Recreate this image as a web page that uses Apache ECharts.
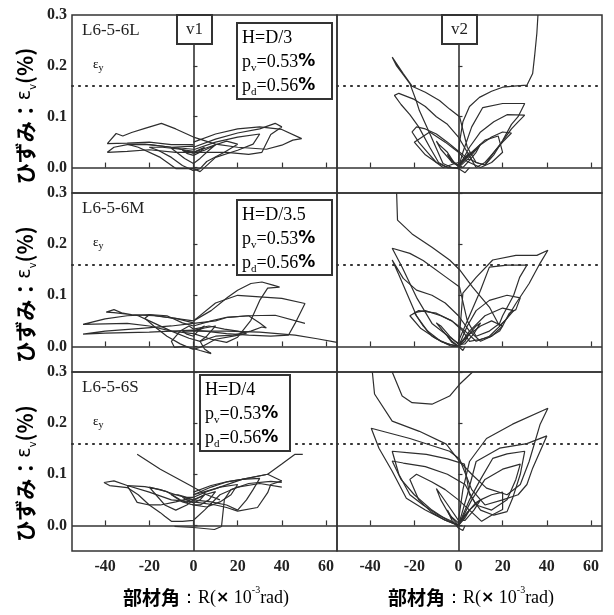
<!DOCTYPE html>
<html>
<head>
<meta charset="utf-8">
<script src="https://cdn.jsdelivr.net/npm/echarts@6/dist/echarts.min.js"></script>
<style>
  html, body { margin: 0; padding: 0; background: #fff; }
  #chart { width: 614px; height: 615px; }
</style>
</head>
<body>
<div id="chart"></div>
<script>
// axis ticks and reference values
const xTicks = [-40, -20, 0, 20, 40, 60]
const yTicks = [0, 0.1, 0.2, 0.3]
const yieldStrain = 0.16

// row texts
const specimens = ['L6-5-6L', 'L6-5-6M', 'L6-5-6S']
const heights = ['H=D/3', 'H=D/3.5', 'H=D/4']
const pv = '0.53'
const pd = '0.56'

// hysteresis loops [R, strain], one array per loop
const v1L = [
  [[0, 0.03], [3, 0.036], [5, 0.04], [3, 0.03], [0, 0.024], [-3, 0.028], [-5, 0.034], [-3, 0.032], [0, 0.028]],
  [[0, 0.028], [5, 0.034], [10, 0.045], [7, 0.034], [3, 0.018], [0, 0.008], [-4, 0.018], [-10, 0.038], [-7, 0.038], [-3, 0.032], [0, 0.03]],
  [[0, 0.03], [8, 0.042], [15, 0.052], [20, 0.046], [14, 0.03], [6, 0.012], [3, -0.002], [0, -0.006], [-5, 0.004], [-10, 0.02], [-16, 0.034], [-20, 0.04], [-14, 0.04], [-6, 0.036], [0, 0.032]],
  [[0, 0.035], [10, 0.05], [20, 0.06], [30, 0.066], [27, 0.046], [20, 0.034], [10, 0.02], [3, -0.008], [0, -0.002], [-8, -0.002], [-15, 0.02], [-25, 0.04], [-30, 0.046], [-22, 0.046], [-10, 0.04], [0, 0.036]],
  [[0, 0.04], [10, 0.056], [20, 0.068], [30, 0.076], [37, 0.087], [40, 0.08], [35, 0.065], [31, 0.03], [25, 0.026], [15, 0.03], [5, 0.03], [0, 0.03], [-8, 0.03], [-20, 0.035], [-30, 0.032], [-39, 0.03], [-36, 0.04], [-30, 0.045], [-20, 0.045], [-10, 0.04], [0, 0.042]],
  [[0, 0.05], [10, 0.066], [20, 0.076], [30, 0.08], [40, 0.075], [49, 0.057], [45, 0.054], [40, 0.044], [33, 0.036], [20, 0.04], [10, 0.046], [0, 0.06], [-8, 0.076], [-14.5, 0.087], [-22, 0.077], [-28, 0.069], [-32, 0.062], [-35, 0.067], [-39, 0.047], [-30, 0.048], [-20, 0.05], [-10, 0.045], [0, 0.045]]
]

const v2L = [
  [[0, 0.006], [3, 0.02], [5, 0.03], [3, 0.016], [0, 0.002], [-3, 0.015], [-5, 0.026], [-3, 0.01], [0, 0.004]],
  [[0, 0.004], [4, 0.02], [8, 0.036], [10, 0.046], [8, 0.03], [5, 0.014], [2, 0], [-2, 0.01], [-5, 0.03], [-9, 0.046], [-10, 0.052], [-8, 0.036], [-4, 0.016], [0, 0.002]],
  [[0, 0], [5, 0.02], [10, 0.045], [15, 0.06], [20, 0.07], [24, 0.068], [20, 0.05], [16, 0.03], [12, 0.005], [8, 0.01], [3, 0.022], [0, 0.032], [-5, 0.05], [-10, 0.066], [-15, 0.076], [-19, 0.08], [-21, 0.07], [-18, 0.05], [-14, 0.03], [-10, 0.01], [-7, 0], [-3, 0.006], [0, 0.01]],
  [[0, 0.006], [6, 0.03], [12, 0.054], [18, 0.062], [20, 0.03], [15, 0.01], [10, 0], [4, 0.012], [0, 0.03], [-6, 0.05], [-13, 0.07], [-20, 0.05], [-15, 0.025], [-10, 0.01], [-5, 0], [0, 0]],
  [[0, 0], [5, 0.04], [10, 0.07], [16, 0.09], [22, 0.104], [30, 0.103], [27, 0.09], [24, 0.076], [20, 0.052], [16, 0.03], [12, 0.01], [8, 0], [4, 0.03], [0, 0.06], [-5, 0.085], [-10, 0.1], [-15, 0.12], [-20, 0.134], [-27, 0.146], [-29, 0.142], [-26, 0.124], [-22, 0.104], [-18, 0.08], [-13, 0.04], [-9, 0.01], [-5, 0], [0, 0]],
  [[0, 0], [2, 0.03], [6, 0.08], [11, 0.118], [20, 0.126], [30, 0.126], [27, 0.1], [24, 0.085], [20, 0.053], [16, 0.025], [12, 0.005], [8, 0.01], [4, 0.04], [0.5, 0.1], [-4, 0.115], [-8.6, 0.132], [-15, 0.148], [-21, 0.16], [-25, 0.185], [-30, 0.217], [-28, 0.2], [-24.5, 0.18], [-22, 0.165], [-19, 0.13], [-17.7, 0.112], [-13, 0.067], [-7, 0.008], [-3, 0], [0, -0.002], [3, -0.01], [5, 0]],
  [[0, 0], [0.5, 0.05], [2, 0.09], [5, 0.12], [9.5, 0.138], [15, 0.15], [20, 0.158], [25, 0.16], [31, 0.162], [33.6, 0.185], [34.5, 0.22], [35.5, 0.264], [36, 0.3]]
]

const v1M = [
  [[0, 0.03], [3, 0.035], [5, 0.04], [2, 0.03], [0, 0.02], [-3, 0.024], [-5, 0.03], [-2, 0.03], [0, 0.03]],
  [[0, 0.03], [5, 0.036], [10, 0.04], [6, 0.02], [3, 0.01], [5, -0.005], [8, -0.014], [3, -0.008], [0, -0.004], [-4, 0], [-8.6, -0.002], [-10, 0.01], [-6, 0.03], [-2, 0.04], [0, 0.034]],
  [[0, 0.034], [7, 0.04], [14, 0.034], [20, 0.03], [24, 0.025], [18, 0.02], [10, 0.014], [4, 0], [0, -0.006], [-6, 0.005], [-12, 0.02], [-18, 0.04], [-22, 0.055], [-20, 0.062], [-12, 0.06], [-5, 0.046], [0, 0.04]],
  [[0, 0.04], [8, 0.05], [15, 0.057], [25, 0.06], [30, 0.046], [33, 0.036], [31, 0.038], [26, 0.03], [18, 0.022], [10, 0.02], [3, 0.01], [-2, 0.016], [-10, 0.03], [-20, 0.05], [-25, 0.06], [-32, 0.065], [-36, 0.072], [-39.5, 0.067], [-36, 0.066], [-28, 0.062], [-18, 0.06], [-8, 0.055], [0, 0.046]],
  [[0, 0.05], [8, 0.07], [15.5, 0.096], [20, 0.11], [26, 0.123], [31, 0.126], [36, 0.12], [39, 0.116], [33.6, 0.114], [30, 0.09], [26, 0.051], [20, 0.018], [15, 0.008], [8, 0.014], [0, 0.025], [-10, 0.03], [-20, 0.04], [-30, 0.045], [-40, 0.044], [-50, 0.043], [-40, 0.054], [-30, 0.06], [-20, 0.062], [-10, 0.056], [0, 0.05]],
  [[0, 0.05], [10, 0.085], [20, 0.1], [30, 0.097], [40, 0.094], [50.5, 0.084], [46, 0.045], [43, 0.022], [35, 0.02], [25, 0.022], [15, 0.025], [5, 0.03], [0, 0.032], [-10, 0.03], [-20, 0.028], [-30, 0.027], [-40, 0.026], [-50, 0.024], [-40, 0.03], [-25, 0.035], [-10, 0.04], [0, 0.045], [10, 0.05], [15.5, 0.057], [25, 0.06], [37, 0.061], [50.5, 0.045]],
  [[0, 0.03], [15, 0.03], [30, 0.028], [46, 0.022], [56, 0.015], [65, 0.008]]
]

const v2M = [
  [[0, 0.004], [3, 0.015], [5, 0.026], [3, 0.01], [0, 0], [-3, 0.01], [-5, 0.02], [-3, 0.008], [0, 0]],
  [[0, 0], [4, 0.02], [8, 0.04], [10, 0.046], [7, 0.025], [3, 0.005], [0, 0.004], [-4, 0.02], [-8, 0.04], [-10, 0.046], [-7, 0.03], [-3, 0.01], [0, 0]],
  [[0, 0.004], [5, 0.024], [10, 0.04], [15, 0.05], [20, 0.04], [18.6, 0.03], [14, 0.018], [10, 0.014], [5, 0.01], [2, 0.03], [-3, 0.05], [-8, 0.06], [-15, 0.07], [-20, 0.066], [-16, 0.04], [-12, 0.02], [-8, 0.01], [-4, 0.004], [0, 0], [2, -0.008], [3, 0]],
  [[0, 0], [5, 0.03], [12, 0.06], [20, 0.075], [25, 0.07], [20, 0.045], [14, 0.02], [8, 0.01], [3, 0.03], [-3, 0.05], [-10, 0.065], [-18, 0.07], [-22, 0.06], [-17, 0.035], [-10, 0.015], [-5, 0.005], [0, 0]],
  [[0, 0], [4, 0.04], [8, 0.07], [14, 0.09], [22, 0.1], [28, 0.095], [26, 0.072], [23, 0.065], [20, 0.04], [15, 0.02], [10, 0.01], [5, 0.03], [0, 0.06], [-6, 0.085], [-12, 0.1], [-19, 0.11], [-25, 0.133], [-30, 0.169], [-27, 0.14], [-23, 0.1], [-19, 0.06], [-14, 0.03], [-8, 0.01], [-3, 0], [0, 0]],
  [[0, 0.01], [5, 0.06], [10, 0.11], [14, 0.155], [22, 0.159], [31, 0.159], [27.7, 0.135], [25, 0.1], [23, 0.084], [20, 0.06], [18.6, 0.045], [14, 0.03], [8, 0.02], [4, 0.05], [0.5, 0.116], [-5.5, 0.135], [-16, 0.168], [-22, 0.182], [-30, 0.192], [-25.5, 0.155], [-19, 0.096], [-12, 0.045], [-4, 0.018], [0, 0.006]],
  [[0, 0], [1, 0.05], [2, 0.104], [8, 0.135], [15.5, 0.169], [26, 0.178], [35.5, 0.178], [40.5, 0.188], [37, 0.163], [32, 0.123], [26, 0.084], [22, 0.055], [18.6, 0.04], [14, 0.077], [6.4, 0.116], [0.5, 0.15], [-4, 0.169], [-12, 0.194], [-21, 0.22], [-27.6, 0.247], [-28, 0.3]]
]

const v1S = [
  [[0, 0.05], [3, 0.055], [5, 0.06], [3, 0.05], [0, 0.044], [-3, 0.05], [-5, 0.055], [-3, 0.05], [0, 0.05]],
  [[0, 0.05], [5, 0.06], [10, 0.066], [7, 0.05], [3, 0.04], [0, 0.04], [-5, 0.046], [-10, 0.06], [-7, 0.06], [-3, 0.055], [0, 0.055]],
  [[0, 0.055], [6, 0.066], [12, 0.075], [20, 0.08], [17, 0.06], [12, 0.046], [6, 0.036], [0, 0.04], [-6, 0.05], [-12, 0.066], [-20, 0.075], [-17, 0.06], [-13, 0.04], [-8, 0.03], [-3, 0.04], [0, 0.05]],
  [[0, 0.06], [8, 0.075], [15, 0.085], [22, 0.09], [30, 0.092], [27, 0.07], [24, 0.05], [20, 0.03], [15, 0.04], [8, 0.046], [0, 0.05], [-8, 0.06], [-15, 0.07], [-22, 0.076], [-30, 0.078], [-25.5, 0.045], [-20, 0.04], [-15, 0.04], [-8, 0.046], [0, 0.055]],
  [[0, 0.065], [8, 0.078], [15, 0.085], [22, 0.09], [33.6, 0.1], [40, 0.087], [35, 0.08], [33.6, 0.064], [29, 0.035], [20, 0.028], [15, 0.035], [10, 0.04], [0, 0.046], [-10, 0.05], [-20, 0.065], [-30, 0.078], [-36, 0.087], [-40.5, 0.084], [-38, 0.078], [-30, 0.074], [-25, 0.06], [-20, 0.04], [-15, 0.025], [-13, 0.018], [-10, 0.008], [-5, 0.008], [0, 0.01], [5, 0.03], [12, 0.06], [20, 0.075], [30, 0.082], [40, 0.075]],
  [[-8.6, -0.002], [0, -0.004], [9.5, -0.008], [12.7, -0.002], [14, 0.051], [17, 0.07], [25, 0.082], [35, 0.086], [40, 0.084]],
  [[0, 0.06], [10, 0.072], [22, 0.09], [33.6, 0.1], [40, 0.12], [46, 0.139], [49.5, 0.139]],
  [[-25.5, 0.139], [-15, 0.11], [-1, 0.077], [6, 0.06], [12, 0.05]]
]

const v2S = [
  [[0, 0.005], [3, 0.02], [5, 0.03], [3, 0.015], [0, 0], [-3, 0.015], [-5, 0.03], [-3, 0.01], [0, -0.005], [2, -0.01], [3, 0]],
  [[0, 0], [4, 0.025], [8, 0.045], [10, 0.05], [7, 0.03], [3, 0.01], [0, 0.01], [-4, 0.035], [-8, 0.06], [-10, 0.072], [-8, 0.05], [-4, 0.02], [0, 0.005]],
  [[0, 0.005], [5, 0.03], [10, 0.05], [15, 0.06], [20, 0.065], [20, 0.031], [15, 0.02], [10.5, 0.008], [5, 0.03], [0, 0.05], [-6, 0.07], [-12, 0.085], [-19, 0.1], [-22, 0.09], [-18, 0.05], [-12, 0.025], [-6, 0.01], [0, 0]],
  [[0, 0], [6, 0.05], [12, 0.09], [20, 0.11], [28, 0.12], [26, 0.09], [22, 0.05], [15, 0.03], [8, 0.04], [3, 0.08], [-5, 0.1], [-15, 0.115], [-25, 0.122], [-30, 0.126], [-26, 0.09], [-20, 0.06], [-12, 0.03], [-5, 0.01], [0, 0]],
  [[0, 0], [5, 0.05], [10, 0.09], [15.5, 0.131], [22, 0.14], [30, 0.145], [28, 0.1], [24.5, 0.053], [22, 0.027], [16, 0.02], [10, 0.03], [5, 0.06], [2.7, 0.12], [-5, 0.13], [-14.5, 0.139], [-22, 0.142], [-30, 0.145], [-27, 0.1], [-22, 0.06], [-16, 0.04], [-9, 0.02], [-4, 0.01], [0, 0]],
  [[0, 0], [4, 0.06], [8, 0.125], [18.6, 0.151], [31, 0.16], [40, 0.175], [33.6, 0.112], [31, 0.08], [27, 0.06], [20, 0.05], [12, 0.04], [6, 0.07], [0.5, 0.13], [-4, 0.145], [-22, 0.17], [-39.5, 0.19], [-36, 0.151], [-30, 0.106], [-23.6, 0.053], [-15, 0.03], [-6, 0.01], [0, 0]],
  [[0, 0.01], [2, 0.07], [5, 0.125], [12.7, 0.17], [24.5, 0.198], [40.5, 0.229], [37, 0.198], [32, 0.125], [28, 0.08], [22, 0.06], [12.7, 0.073], [6, 0.1], [0.5, 0.125], [-5.5, 0.159], [-17.7, 0.184], [-30, 0.204], [-38, 0.257], [-39, 0.3]],
  [[-30, 0.3], [-25.5, 0.253], [-21, 0.24], [-12, 0.237], [-4, 0.253], [0.5, 0.276], [6.4, 0.3]]
]

const panels = [v1L, v2L, v1M, v2M, v1S, v2S]

// layout
const ink = '#333'
const rows = [{ top: 15, h: 178 }, { top: 193, h: 179 }, { top: 372, h: 179 }]
const cols = [{ left: 72, w: 265 }, { left: 337, w: 265 }]
const serif = 'Liberation Serif'
const cjk = 'Noto Sans CJK JP'

const grids = []
const xAxes = []
const yAxes = []
const series = []

panels.forEach((loops, p) => {
  const r = Math.floor(p / 2)
  const c = p % 2
  grids.push({
    left: cols[c].left, top: rows[r].top, width: cols[c].w, height: rows[r].h,
    show: true, borderColor: ink, borderWidth: 1.5, backgroundColor: 'transparent'
  })
  xAxes.push({
    gridIndex: p, type: 'value', min: -55, max: 65,
    axisLine: { show: false },
    splitLine: { show: false },
    axisTick: { show: true, inside: true, length: 5, customValues: xTicks, lineStyle: { color: ink, width: 1.2 } },
    axisLabel: {
      show: r === 2, customValues: xTicks, margin: 8,
      fontFamily: serif, fontWeight: 'bold', fontSize: 16, color: '#222'
    }
  })
  yAxes.push({
    gridIndex: p, type: 'value', min: -0.05, max: 0.3,
    axisLine: { show: false },
    splitLine: { show: false },
    axisTick: { show: true, inside: true, length: 4, customValues: yTicks, lineStyle: { color: ink, width: 1.2 } },
    axisLabel: {
      show: c === 0, customValues: yTicks, margin: 5,
      formatter: v => v.toFixed(1),
      fontFamily: serif, fontWeight: 'bold', fontSize: 16, color: '#222'
    }
  })
  loops.forEach(loop => {
    series.push({
      type: 'line', xAxisIndex: p, yAxisIndex: p, data: loop,
      symbol: 'none', silent: true, clip: true,
      lineStyle: { color: '#2e2e2e', width: 1.2 }
    })
  })
  series.push({
    type: 'line', xAxisIndex: p, yAxisIndex: p, data: [[0, 0]],
    symbol: 'none', silent: true, lineStyle: { width: 0 },
    markLine: {
      silent: true, symbol: 'none', label: { show: false },
      animation: false,
      data: [
        { yAxis: yieldStrain, lineStyle: { color: ink, type: [1, 6], width: 2.2, cap: 'round' } },
        { yAxis: 0, lineStyle: { color: ink, type: 'solid', width: 1.6 } },
        { xAxis: 0, lineStyle: { color: ink, type: 'solid', width: 1.6 } }
      ]
    }
  })
})

// annotations
const graphic = []
const boxStyle = { fill: '#fff', stroke: ink, lineWidth: 2 }
const paramRich = {
  t: { fontFamily: serif, fontSize: 18, color: '#222', lineHeight: 24 },
  s: { fontFamily: serif, fontSize: 11, color: '#222', verticalAlign: 'bottom' },
  pc: { fontFamily: 'DejaVu Sans', fontWeight: 'bold', fontSize: 17, color: '#222' }
}
const paramBoxes = [
  { x: 237, y: 23, w: 95, h: 76 },
  { x: 237, y: 200, w: 95, h: 75 },
  { x: 200, y: 375, w: 90, h: 76 }
]
rows.forEach((row, r) => {
  graphic.push({
    type: 'text', x: 82, y: row.top + 16, z: 100,
    style: { text: specimens[r], font: '17px "Liberation Serif"', fill: '#222', verticalAlign: 'middle' }
  })
  graphic.push({
    type: 'text', x: 93, y: row.top + 50, z: 100,
    style: {
      text: '{e|ε}{s|y}', verticalAlign: 'middle',
      rich: {
        e: { fontFamily: serif, fontSize: 13, color: '#222', lineHeight: 16 },
        s: { fontFamily: serif, fontSize: 10, color: '#222', verticalAlign: 'bottom' }
      }
    }
  })
  const b = paramBoxes[r]
  graphic.push({ type: 'rect', z: 100, shape: { x: b.x, y: b.y, width: b.w, height: b.h }, style: boxStyle })
  graphic.push({
    type: 'text', x: b.x + 5, y: b.y + 3, z: 101,
    style: {
      text: '{t|' + heights[r] + '}\n{t|p}{s|v}{t|=' + pv + '}{pc|%}\n{t|p}{s|d}{t|=' + pd + '}{pc|%}',
      rich: paramRich, verticalAlign: 'top'
    }
  })
  // vertical axis title
  graphic.push({
    type: 'text', x: 25, y: row.top + row.h / 2 + 12, rotation: Math.PI / 2, z: 100,
    style: {
      text: '{j|ひずみ：}{e|ε}{s|v}{j|(%)}', align: 'center', verticalAlign: 'middle',
      rich: {
        j: { fontFamily: cjk, fontWeight: 'bold', fontSize: 21, color: '#222', lineHeight: 26 },
        e: { fontFamily: 'DejaVu Sans', fontSize: 19, color: '#222' },
        s: { fontFamily: 'DejaVu Sans', fontSize: 10, color: '#222', verticalAlign: 'bottom' }
      }
    }
  })
})

// v1 / v2 labels
;[{ x: 177, w: 35, label: 'v1' }, { x: 442, w: 35, label: 'v2' }].forEach(v => {
  graphic.push({ type: 'rect', z: 100, shape: { x: v.x, y: 15, width: v.w, height: 29 }, style: boxStyle })
  graphic.push({
    type: 'text', x: v.x + v.w / 2, y: 30, z: 101,
    style: { text: v.label, font: '17px "Liberation Serif"', fill: '#222', align: 'center', verticalAlign: 'middle' }
  })
})

// horizontal axis titles
;[206, 471].forEach(cx => {
  graphic.push({
    type: 'text', x: cx, y: 598, z: 100,
    style: {
      text: '{c|部材角}{s|：R(}{x|×}{s| 10}{sup|-3}{s|rad)}', align: 'center', verticalAlign: 'middle',
      rich: {
        c: { fontFamily: cjk, fontWeight: 'bold', fontSize: 19, color: '#222', lineHeight: 26 },
        s: { fontFamily: serif, fontSize: 18, color: '#222' },
        x: { fontFamily: 'DejaVu Sans', fontWeight: 'bold', fontSize: 16, color: '#222' },
        sup: { fontFamily: serif, fontSize: 10, color: '#222', verticalAlign: 'top' }
      }
    }
  })
})

const chart = echarts.init(document.getElementById('chart'))
chart.setOption({
  animation: false,
  backgroundColor: '#fff',
  grid: grids,
  xAxis: xAxes,
  yAxis: yAxes,
  series: series,
  graphic: graphic
})
window.addEventListener('resize', () => chart.resize())
</script>
</body>
</html>
